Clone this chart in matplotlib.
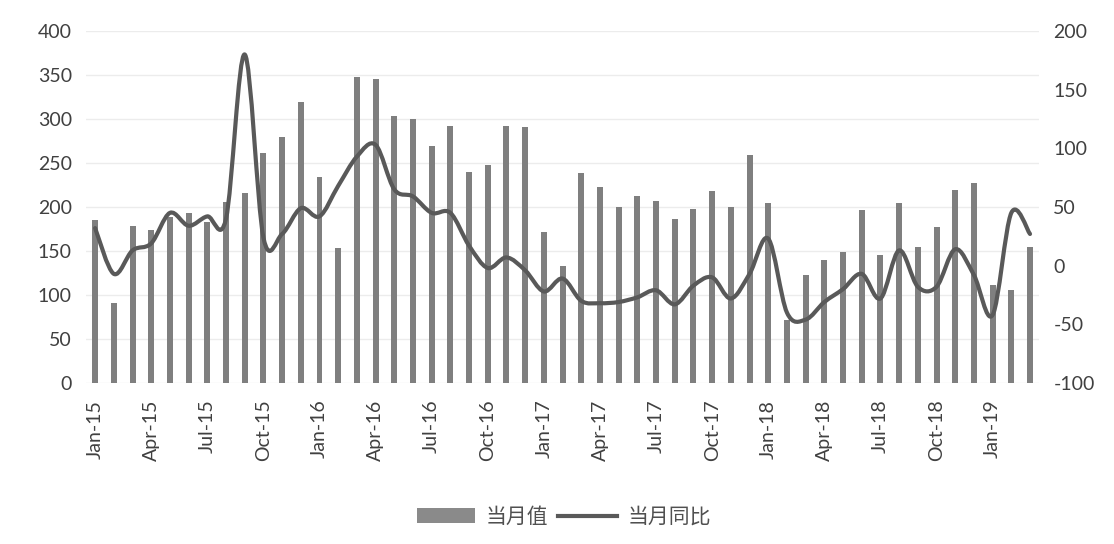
import matplotlib
matplotlib.use("Agg")
import matplotlib.pyplot as plt
from matplotlib.path import Path
from matplotlib.patches import PathPatch
from matplotlib.lines import Line2D
from matplotlib.patches import Patch
import numpy as np

plt.rcParams['font.family'] = ['Lato', 'DejaVu Sans', 'Noto Sans CJK SC']
plt.rcParams['axes.unicode_minus'] = False

months = ['Jan', 'Feb', 'Mar', 'Apr', 'May', 'Jun', 'Jul', 'Aug', 'Sep', 'Oct', 'Nov', 'Dec']
categories = [f"{m}-{y}" for y in ['15', '16', '17', '18'] for m in months] + ['Jan-19', 'Feb-19', 'Mar-19']

monthly_value = [185, 91, 178, 174, 189, 193, 183, 206, 216, 261, 280, 319,
                 234, 153, 348, 345, 303, 300, 269, 292, 240, 248, 292, 291,
                 172, 133, 239, 223, 200, 212, 207, 186, 198, 218, 200, 259,
                 204, 72, 123, 140, 149, 197, 145, 204, 155, 177, 219, 227,
                 111, 106, 155]

yoy = [32, -7, 13, 19, 45, 34, 42, 40, 180, 24, 27, 49,
       42, 68, 93, 103, 65, 59, 45, 45, 17, -2, 7, -4,
       -22, -11, -30, -32, -31, -27, -21, -33, -17, -10, -28, -7,
       23, -40, -46, -31, -20, -7, -28, 13, -18, -18, 14, -8,
       -42, 45, 27]

left_ticks = [0, 50, 100, 150, 200, 250, 300, 350, 400]
right_ticks = [-100, -50, 0, 50, 100, 150, 200]

fig = plt.figure(figsize=(11.14, 5.44), dpi=100)
ax = fig.add_axes([0.077, 0.296, 0.856, 0.647])
ax2 = ax.twinx()

x = np.arange(len(categories))
ax.bar(x, monthly_value, width=0.32, color='#7f7f7f', zorder=2)
ax.set_xlim(-0.5, len(categories) - 0.5)
ax.set_ylim(0, 400)
ax.set_yticks(left_ticks)
ax.grid(axis='y', color='#ececec', linewidth=1, zorder=0)
ax.set_axisbelow(True)

# smooth line (Catmull-Rom -> cubic Bezier in data coordinates)
pts = np.column_stack([x, np.array(yoy, dtype=float)])
verts = [tuple(pts[0])]
codes = [Path.MOVETO]
n = len(pts)
for i in range(n - 1):
    p0 = pts[i - 1] if i > 0 else pts[i]
    p1 = pts[i]
    p2 = pts[i + 1]
    p3 = pts[i + 2] if i + 2 < n else pts[i + 1]
    c1 = p1 + (p2 - p0) / 6.0
    c2 = p2 - (p3 - p1) / 6.0
    verts += [tuple(c1), tuple(c2), tuple(p2)]
    codes += [Path.CURVE4] * 3
ax2.add_patch(PathPatch(Path(verts, codes), facecolor='none', edgecolor='#595959',
                        linewidth=3, zorder=3, capstyle='round', joinstyle='round'))
ax2.set_ylim(-100, 200)
ax2.set_yticks(right_ticks)

ax.set_xticks(x[::3])
ax.set_xticklabels(categories[::3], rotation=90)

for a in (ax, ax2):
    for s in a.spines.values():
        s.set_visible(False)
    a.tick_params(length=0, labelsize=14, colors='#404040')
ax.tick_params(axis='x', pad=12)
ax.tick_params(axis='y', pad=10)
ax2.tick_params(axis='y', pad=10)

handles = [Patch(facecolor='#8a8a8a', edgecolor='none'),
           Line2D([0], [0], color='#595959', linewidth=3)]
fig.legend(handles, ['当月值', '当月同比'], loc='center', bbox_to_anchor=(0.506, 0.05),
           ncol=2, frameon=False, handlelength=2.8, handletextpad=0.5,
           columnspacing=0.5, prop={'family': ['Noto Sans CJK SC'], 'size': 15},
           labelcolor='#505050')

fig.savefig('out.png', dpi=100)
